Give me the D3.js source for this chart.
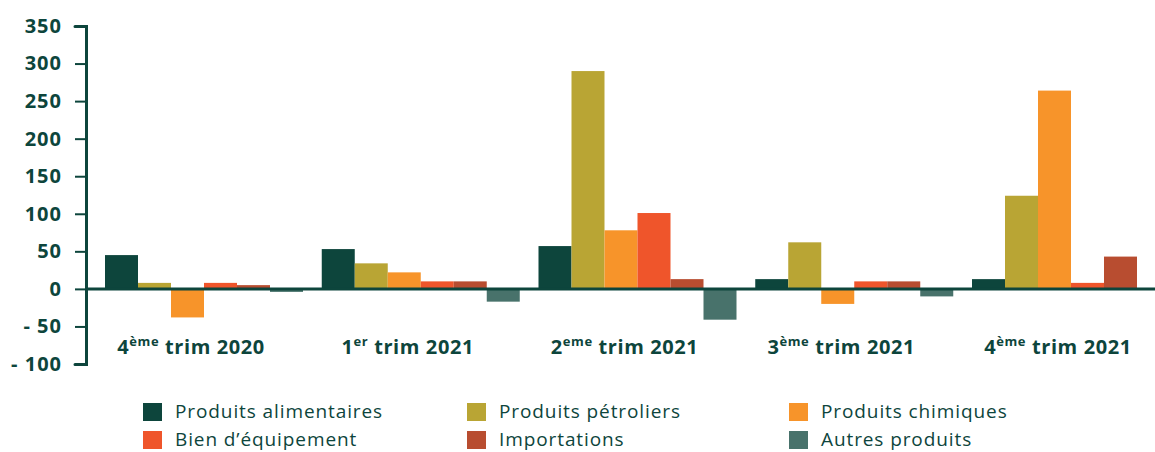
<!DOCTYPE html>
<html>
<head>
<meta charset="utf-8">
<script src="https://cdn.jsdelivr.net/npm/d3@7"></script>
<style>
  html, body { margin: 0; padding: 0; background: #fff; }
  svg { display: block; }
  text { font-family: "Open Sans", sans-serif; fill: #0d453c; }
</style>
</head>
<body>
<svg id="chart" width="1155" height="452"></svg>
<script>
// Quarterly contributions by product group
const categories = ["4ème trim 2020", "1er trim 2021", "2eme trim 2021", "3ème trim 2021", "4ème trim 2021"];
const seriesNames = ["Produits alimentaires", "Produits pétroliers", "Produits chimiques",
                     "Bien d’équipement", "Importations", "Autres produits"];
const alimentaires = [45, 53, 57, 13, 13];
const petroliers   = [8, 34, 290, 62, 124];
const chimiques    = [-38, 22, 78, -20, 264];
const equipement   = [8, 10, 101, 10, 8];
const importations = [5, 10, 13, 10, 43];
const autres       = [-4, -17, -41, -10, 0];
const yTicks = [350, 300, 250, 200, 150, 100, 50, 0, -50, -100];
const colors = ["#0d453c", "#b9a534", "#f7942a", "#ef552b", "#b84d30", "#48726b"];

const seriesValues = [alimentaires, petroliers, chimiques, equipement, importations, autres];
const ink = "#0d453c";

const svg = d3.select("#chart");

const y = d3.scaleLinear().domain([-100, 350]).range([364, 26]);
const x0 = d3.scaleBand().domain(categories).range([105, 1170]).paddingInner(0.0865).paddingOuter(0);
const x1 = d3.scaleBand().domain(seriesNames).range([0, x0.bandwidth()]).padding(0);
const color = d3.scaleOrdinal().domain(seriesNames).range(colors);

// Bars
const rows = categories.map((c, i) => ({
  cat: c,
  items: seriesNames.map((s, j) => ({ s, v: seriesValues[j][i] }))
}));

const groups = svg.append("g").selectAll("g")
  .data(rows).join("g")
  .attr("transform", d => `translate(${x0(d.cat)},0)`);

groups.selectAll("rect")
  .data(d => d.items.filter(it => it.v !== 0))
  .join("rect")
  .attr("x", d => x1(d.s))
  .attr("width", x1.bandwidth())
  .attr("y", d => y(Math.max(0, d.v)))
  .attr("height", d => Math.abs(y(d.v) - y(0)))
  .attr("fill", d => color(d.s));

// Zero baseline across the plot
svg.append("line")
  .attr("x1", 86).attr("x2", 1155)
  .attr("y1", y(0)).attr("y2", y(0))
  .attr("stroke", ink).attr("stroke-width", 3);

// Y axis
const yAxis = d3.axisLeft(y)
  .tickValues(yTicks)
  .tickSize(11)
  .tickPadding(12)
  .tickFormat(d => d < 0 ? "- " + Math.abs(d) : String(d));

const ga = svg.append("g").attr("transform", "translate(86,0)").call(yAxis);
ga.select(".domain").attr("stroke", ink).attr("stroke-width", 3).attr("stroke-linecap", "round");
ga.selectAll(".tick line").attr("stroke", ink).attr("stroke-width", 2)
  .attr("display", d => (d === 350 || d === -100) ? "none" : null);
ga.selectAll(".tick text")
  .attr("x", -24)
  .style("font-family", "'Open Sans', sans-serif")
  .style("font-size", "20px")
  .style("font-weight", "700")
  .style("letter-spacing", "1px")
  .attr("fill", ink);

// Category labels with superscript ordinals
const catLabels = svg.append("g").selectAll("text")
  .data(categories).join("text")
  .attr("x", d => x0(d) + x0.bandwidth() / 2 - 13)
  .attr("y", 354)
  .attr("text-anchor", "middle")
  .style("font-size", "20px")
  .style("font-weight", "700")
  .style("letter-spacing", "0.6px");

catLabels.each(function(d) {
  const m = d.match(/^(\d)(\S+)(.*)$/);
  const t = d3.select(this);
  t.append("tspan").text(m[1]);
  t.append("tspan").text(m[2]).attr("dy", -8).style("font-size", "13px");
  t.append("tspan").text(m[3]).attr("dy", 8);
});

// Legend: three columns, two rows
const legendCols = [143, 467, 789];
const legendRows = [403, 431];
const leg = svg.append("g").selectAll("g")
  .data(seriesNames).join("g")
  .attr("transform", (d, i) => `translate(${legendCols[i % 3]},${legendRows[Math.floor(i / 3)]})`);
leg.append("rect").attr("width", 19).attr("height", 18).attr("fill", d => color(d));
leg.append("text").attr("x", 32).attr("y", 15)
  .style("font-size", "19px")
  .style("letter-spacing", "0.9px")
  .text(d => d);
</script>
</body>
</html>
